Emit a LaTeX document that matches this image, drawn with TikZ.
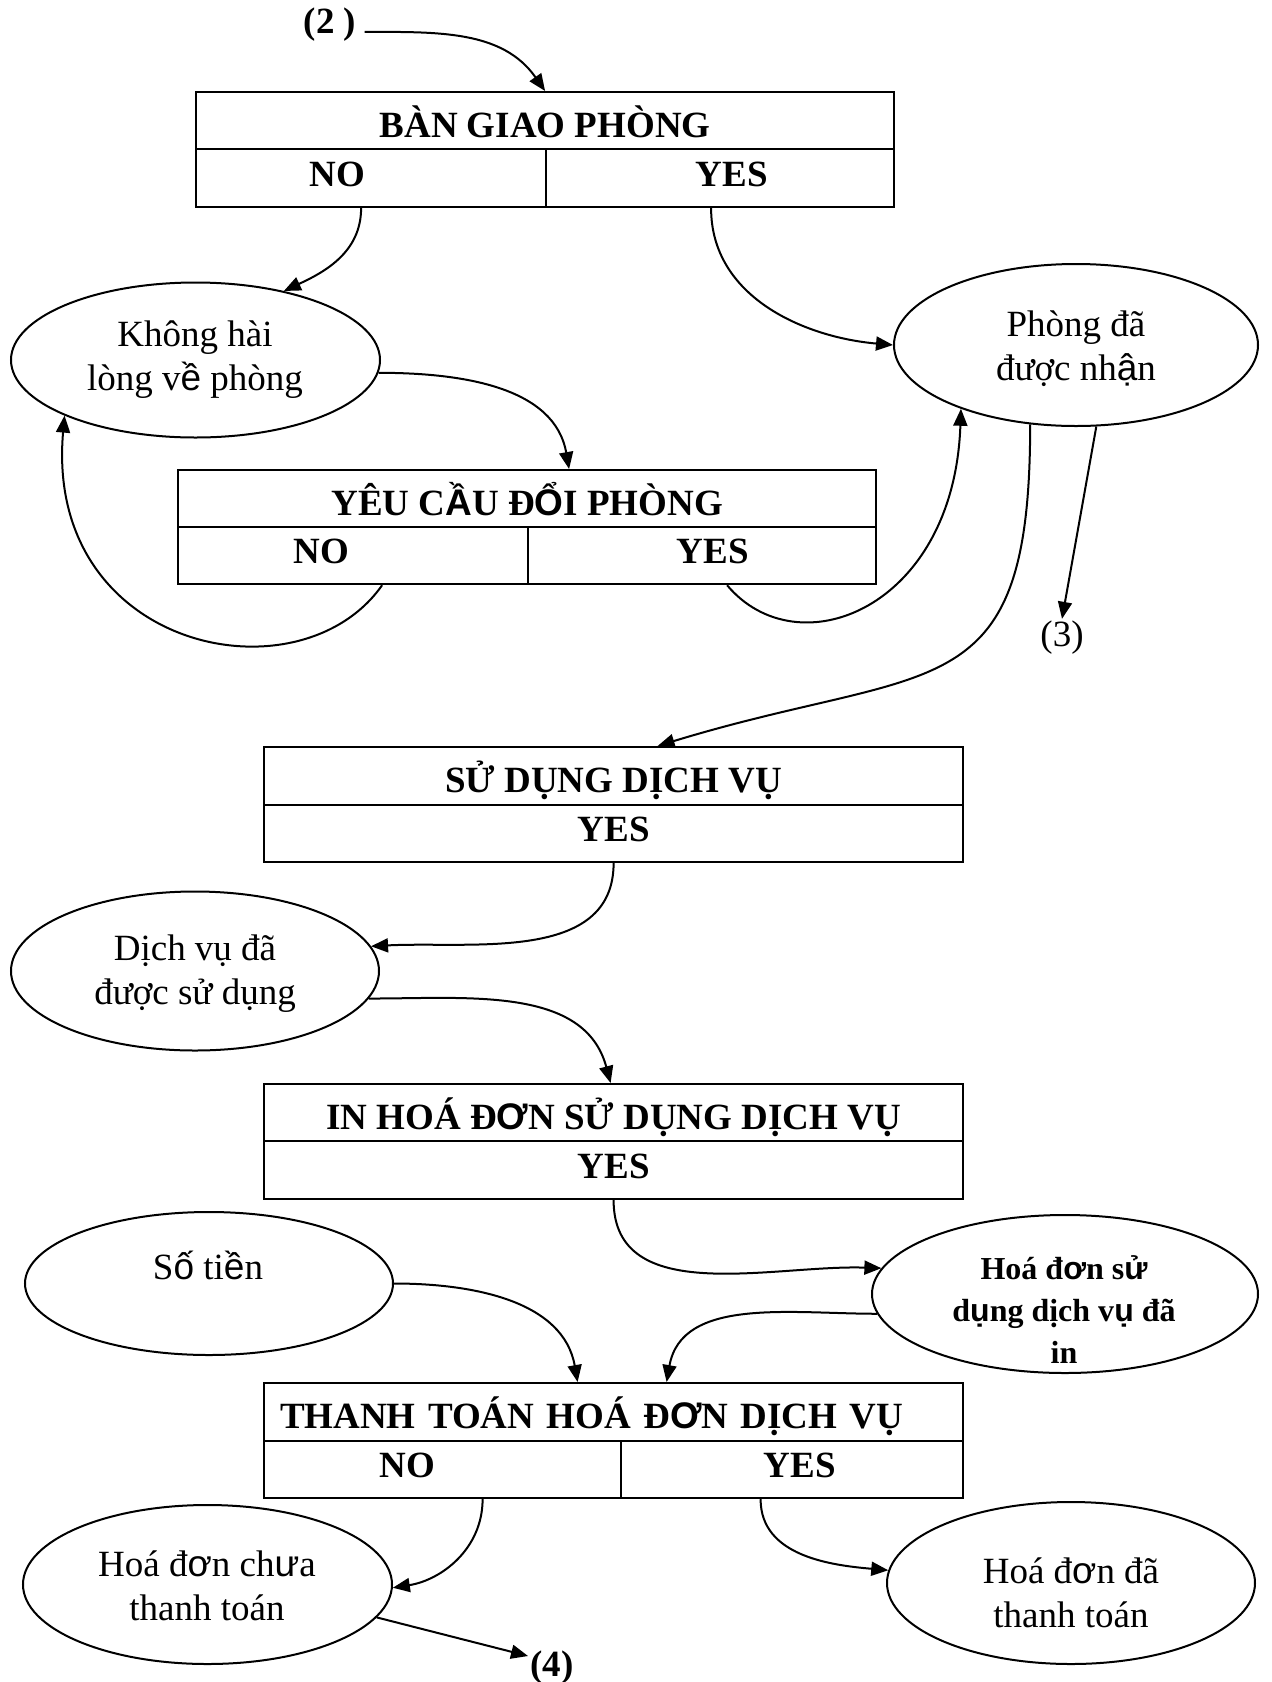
\documentclass[tikz,border=0pt]{standalone}
\usepackage{fontspec}
\setmainfont{Liberation Serif}
\newfontfamily\altsans{Liberation Sans}
\newcommand{\sgl}[1]{{\altsans #1}}
\usetikzlibrary{shapes.geometric,arrows.meta,calc}

\begin{document}
\begin{tikzpicture}[x=0.5pt,y=-0.5pt,
  txt/.style={inner sep=0pt, align=center, font=\fontsize{18.5}{22}\selectfont},
  lbl/.style={inner sep=1pt, font=\fontsize{18.5}{22}\selectfont},
  cell/.style={draw, line width=1.1pt, rectangle, anchor=north west, inner sep=0pt,
    font=\fontsize{18.5}{22}\selectfont\bfseries},
  head/.style={cell, text height=16.5pt, text depth=0pt},
  row/.style={cell, text height=12.3pt, text depth=4pt},
  ell/.style={draw, ellipse, line width=1pt, inner sep=0pt},
  conn/.style={line width=1pt, -{Triangle[length=8.5pt,width=7pt]}}]

\fill[white] (0,0) rectangle (1272,1682);
\useasboundingbox (0,0) rectangle (1272,1682);

% ---- decision tables ----
\node[head, minimum width=349pt, minimum height=28.5pt] (b1t) at (195,91) {BÀN GIAO PHÒNG};
\node[row, minimum width=175pt, minimum height=29pt] (b1n) at (195,148) {NO\hspace*{34pt}};
\node[row, minimum width=174pt, minimum height=29pt] (b1y) at (545,148) {\hspace*{11.8pt}YES};

\node[head, minimum width=349pt, minimum height=28.5pt] (b2t) at (177,469) {YÊU C\sgl{Ầ}U Đ\sgl{Ổ}I PHÒNG};
\node[row, minimum width=175pt, minimum height=28.5pt] (b2n) at (177,526) {NO\hspace*{32pt}};
\node[row, minimum width=174pt, minimum height=28.5pt] (b2y) at (527,526) {\hspace*{10.7pt}YES};

\node[head, minimum width=349.5pt, minimum height=29pt] (b3t) at (263,746) {SỬ DỤNG DỊCH VỤ};
\node[row, minimum width=349.5pt, minimum height=28.5pt] (b3r) at (263,804) {YES};

\node[head, minimum width=349.5pt, minimum height=28.5pt] (b4t) at (263,1083) {IN HOÁ Đ\sgl{Ơ}N SỬ DỤNG DỊCH VỤ};
\node[row, minimum width=349.5pt, minimum height=29pt] (b4r) at (263,1140) {YES};

\node[head, minimum width=349.5pt, minimum height=29pt, inner xsep=8pt,
      text width=333.5pt, align=left] (b5t) at (263,1382) {THANH TOÁN HOÁ Đ\sgl{Ơ}N DỊCH VỤ};
\node[row, minimum width=178.5pt, minimum height=28.5pt] (b5n) at (263,1440) {NO\hspace*{35pt}};
\node[row, minimum width=171pt, minimum height=28.5pt] (b5y) at (620,1440) {\hspace*{7.5pt}YES};

% ---- states ----
\node[ell, minimum width=184.5pt, minimum height=77.5pt] (eA) at (195.5,360) {};
\node[txt] (tA) at (195,360) {Không hài\\lòng v\sgl{ề} phòng};

\node[ell, minimum width=182pt, minimum height=81pt] (eB) at (1076,345) {};
\node[txt] (tB) at (1076,349) {Phòng đã\\được nh\sgl{ậ}n};

\node[ell, minimum width=184pt, minimum height=79.5pt] (eC) at (195,971) {};
\node[txt] (tC) at (195,974) {Dịch vụ đã\\được sử dụng};

\node[ell, minimum width=184pt, minimum height=71.5pt] (eD) at (209,1283.5) {};
\node[txt] (tD) at (208,1265) {S\sgl{ố} ti\sgl{ề}n};

\node[ell, minimum width=193pt, minimum height=79pt] (eE) at (1065,1294) {};
\node[txt, font=\fontsize{16}{21}\selectfont\bfseries] (tE) at (1064,1310)
  {Hoá đ\sgl{ơ}n s\sgl{ử}\\d\sgl{ụ}ng dịch v\sgl{ụ} đã\\in};

\node[ell, minimum width=184.5pt, minimum height=79.5pt] (eF) at (207.5,1584.5) {};
\node[txt] (tF) at (207,1586) {Hoá đ\sgl{ơ}n ch\sgl{ư}a\\thanh toán};

\node[ell, minimum width=184pt, minimum height=81pt] (eG) at (1071,1583) {};
\node[txt] (tG) at (1071,1593) {Hoá đ\sgl{ơ}n đã\\thanh toán};

% ---- off-page references ----
\node[lbl, font=\fontsize{18.5}{22}\selectfont\bfseries] (n2) at (330,25) {(2 )};
\node[lbl] (n3) at (1062,638) {(3)};
\node[lbl, font=\fontsize{18.5}{22}\selectfont\bfseries] (n4) at (552,1668) {(4)};

% ---- transitions ----
\draw[conn] ([shift={(3pt,1pt)}]n2.base east) to[out=0,in=125] (b1t.north);
\draw[conn] ([xshift=-5pt]b1n.south) to[out=-90,in=25] (eA.38);
\draw[conn] ([xshift=-4.5pt]b1y.south) to[out=-90,in=175] (eB.west);
\draw[conn] (eA.-4) to[out=0,in=100] ([xshift=21pt]b2t.north);
\draw[conn] ([xshift=14.5pt]b2n.south) to[out=-125,in=-95,out distance=72pt,in distance=118pt] (eA.203);
\draw[conn] ([xshift=12.5pt]b2y.south) to[out=-50,in=-92,out distance=55pt,in distance=100pt] (eB.209);
\draw[conn] (eB.-120) to[out=-90,in=17,looseness=1.5] ([xshift=22pt]b3t.north);
\draw[conn] (eB.-76) -- (n3.north);
\draw[conn] (b3r.south) to[out=-90,in=3] (eC.8);
\draw[conn] (eC.-9) to[out=0,in=105] ([xshift=-1.5pt]b4t.north);
\draw[conn] (b4r.south) to[out=-90,in=178] (eE.172);
\draw[conn] (eD.east) to[out=0,in=100] ([xshift=-18pt]b5t.north);
\draw[conn] (eE.186) to[out=180,in=80] ([xshift=26.5pt]b5t.north);
\draw[conn] ([xshift=20pt]b5n.south) to[out=-90,in=9] (eF.-1);
\draw[conn] (eF.-11) -- ([yshift=6pt]n4.west);
\draw[conn] ([xshift=-15.75pt]b5y.south) to[out=-90,in=175] (eG.176);

\end{tikzpicture}
\end{document}
